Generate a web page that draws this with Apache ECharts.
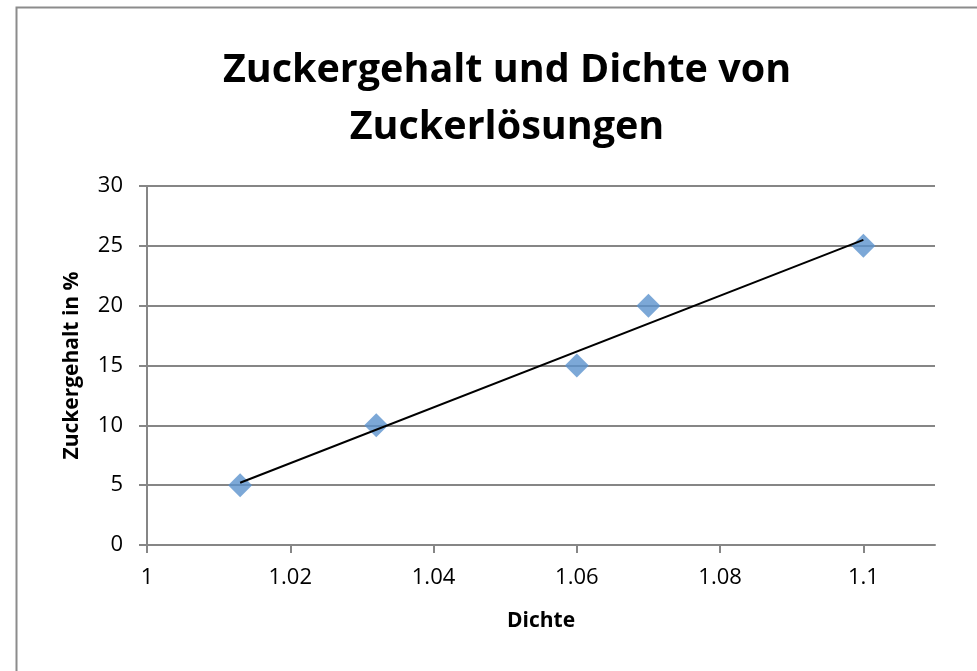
<!DOCTYPE html>
<html>
<head>
<meta charset="utf-8">
<script src="https://cdn.jsdelivr.net/npm/echarts@6/dist/echarts.min.js"></script>
<style>html,body{margin:0;padding:0;background:#fff}#c{width:977px;height:671px}</style>
</head>
<body>
<div id="c"></div>
<script>
const titleText = 'Zuckergehalt und Dichte von\nZuckerlösungen';
const xAxisName = 'Dichte';
const yAxisName = 'Zuckergehalt in %';
const dichte = [1.013, 1.032, 1.06, 1.07, 1.1];
const zucker = [5, 10, 15, 20, 25];
const trendX = [1.013, 1.1];
const trendY = [5.2, 25.5];

const chart = echarts.init(document.getElementById('c'));
const font = '"Open Sans", Lato, sans-serif';
chart.setOption({
  animation: false,
  backgroundColor: '#fff',
  graphic: [{
    type: 'rect', left: 14, top: 5, z: -1,
    shape: {width: 1000, height: 700},
    style: {fill: 'none', stroke: '#8c8c8c', lineWidth: 2}
  }],
  title: {
    text: titleText, left: 502, top: 37, textAlign: 'center',
    textStyle: {fontFamily: font, fontWeight: 'bold', fontSize: 39.5, lineHeight: 57, color: '#000'}
  },
  grid: {left: 147, right: 42, top: 186, bottom: 126},
  xAxis: {
    type: 'value', min: 1, max: 1.11, interval: 0.02,
    name: xAxisName, nameLocation: 'middle', nameGap: 66,
    nameTextStyle: {fontFamily: font, fontWeight: 'bold', fontSize: 21, color: '#000'},
    axisLine: {show: true, onZero: false, lineStyle: {color: '#868686', width: 2}},
    axisTick: {show: true, inside: false, length: 8, lineStyle: {color: '#868686', width: 2}},
    axisLabel: {fontFamily: font, fontSize: 22, color: '#000', margin: 22, showMaxLabel: false,
      formatter: v => String(Math.round(v * 100) / 100)},
    splitLine: {show: false}
  },
  yAxis: {
    type: 'value', min: 0, max: 30, interval: 5,
    name: yAxisName, nameLocation: 'middle', nameGap: 64, nameRotate: 90,
    nameTextStyle: {fontFamily: font, fontWeight: 'bold', fontSize: 21, color: '#000'},
    axisLine: {show: true, lineStyle: {color: '#868686', width: 2}},
    axisTick: {show: true, inside: false, length: 8, lineStyle: {color: '#868686', width: 2}},
    axisLabel: {fontFamily: font, fontSize: 22, color: '#000', margin: 24},
    splitLine: {show: true, lineStyle: {color: '#868686', width: 2}}
  },
  series: [{
    type: 'scatter',
    data: dichte.map((x, i) => [x, zucker[i]]),
    symbol: 'diamond', symbolSize: 24,
    itemStyle: {color: '#5b92cd'}, z: 2
  }, {
    type: 'line',
    data: trendX.map((x, i) => [x, trendY[i]]),
    showSymbol: false, symbol: 'none',
    lineStyle: {color: '#000', width: 2}, z: 3
  }]
});
</script>
</body>
</html>
